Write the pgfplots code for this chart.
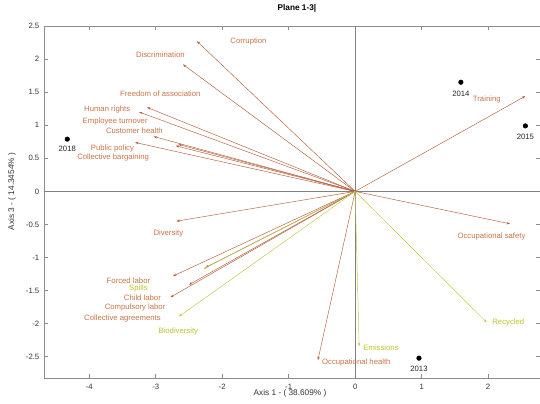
\documentclass[border=0pt]{standalone}
\usepackage{pgfplots}
\pgfplotsset{compat=1.18}
\usepackage{fontspec}
\setmainfont{Liberation Sans}
\usetikzlibrary{arrows.meta}
\definecolor{brn}{RGB}{180,95,60}
\definecolor{brt}{RGB}{200,115,70}
\definecolor{ylw}{RGB}{190,200,70}
\definecolor{ylt}{RGB}{185,195,40}
\begin{document}
\begin{tikzpicture}
\begin{axis}[
  scale only axis, width=372pt, height=264pt,
  xmin=-4.68, xmax=2.78, ymin=-2.82, ymax=2.5,
  xtick={-4,-3,-2,-1,0,1,2}, ytick={-2.5,-2,-1.5,-1,-0.5,0,0.5,1,1.5,2,2.5},
  axis line style={black!45, line width=0.6pt}, tick style={black!45, line width=0.5pt},
  tick align=inside, major tick length=3pt,
  ticklabel style={font=\fontsize{5.8}{7}\selectfont, text=black!80},
  /pgf/number format/assume math mode=true,
  xticklabel style={yshift=-1pt},
  title={Plane 1-3|},
  title style={at={(axis description cs:0.51,1)}, anchor=center, yshift=7.5pt, font=\bfseries\fontsize{6.2}{7}\selectfont},
  xlabel={Axis 1 - ( 38.609\% )},
  xlabel style={at={(axis description cs:0.496,0)}, anchor=center, yshift=-11.5pt, font=\fontsize{6.2}{7}\selectfont, text=black!80},
  ylabel={Axis 3 - ( 14.3454\% )},
  ylabel style={at={(axis description cs:-0.0645,0.53)}, anchor=center, font=\fontsize{6.2}{7}\selectfont, text=black!80},
  clip=false,
]
% zero axes
\addplot[black!50, line width=0.7pt] coordinates {(-4.68,0) (2.78,0)};
\addplot[black!50, line width=0.7pt] coordinates {(0,-2.82) (0,2.5)};

\tikzset{arr/.style={line width=0.35pt, -{Stealth[length=2.6pt,width=1.8pt]}}}
% social (brown) vectors
\addplot[brn, arr] coordinates {(0,0) (-2.38,2.27)};   % Corruption
\addplot[brn, arr] coordinates {(0,0) (-2.59,1.92)};   % Discrimination
\addplot[brn, arr] coordinates {(0,0) (-3.13,1.27)};   % Freedom of association
\addplot[brn, arr] coordinates {(0,0) (-3.25,1.20)};   % Human rights
\addplot[brn, arr] coordinates {(0,0) (-2.66,0.71)};   % Employee turnover
\addplot[brn, arr] coordinates {(0,0) (-3.03,0.83)};   % Customer health
\addplot[brn, arr] coordinates {(0,0) (-3.31,0.74)};   % Public policy
\addplot[brn, arr] coordinates {(0,0) (-2.70,0.69)};   % Collective bargaining
\addplot[brn, arr] coordinates {(0,0) (2.56,1.44)};    % Training
\addplot[brn, arr] coordinates {(0,0) (-2.69,-0.45)};  % Diversity
\addplot[brn, arr] coordinates {(0,0) (-2.74,-1.28)};  % Forced labor
\addplot[brn, arr] coordinates {(0,0) (-2.78,-1.60)};  % Child labor
\addplot[brn, arr] coordinates {(0,0) (-2.50,-1.41)};  % Compulsory labor
\addplot[brn, arr] coordinates {(0,0) (-2.25,-1.15)};  % Collective agreements
\addplot[brn, arr] coordinates {(0,0) (2.33,-0.49)};   % Occupational safety
\addplot[brn, arr] coordinates {(0,0) (-0.56,-2.55)};  % Occupational health
% environmental (yellow) vectors
\addplot[ylw, arr] coordinates {(0,0) (-2.28,-1.17)};  % Spills
\addplot[ylw, arr] coordinates {(0,0) (-2.65,-1.89)};  % Biodiversity
\addplot[ylw, arr] coordinates {(0,0) (1.98,-1.98)};   % Recycled
\addplot[ylw, arr] coordinates {(0,0) (0.06,-2.34)};   % Emissions

% years
\addplot[only marks, mark=*, mark size=1.7pt, black] coordinates {(-4.33,0.79) (1.59,1.65) (2.56,0.99) (0.96,-2.52)};

\tikzset{lb/.style={font=\fontsize{5.8}{7}\selectfont, text=brt, inner sep=0pt}}
\tikzset{ly/.style={font=\fontsize{5.8}{7}\selectfont, text=ylt, inner sep=0pt}}
\tikzset{yr/.style={font=\fontsize{5.8}{7}\selectfont, text=black!85, inner sep=0pt}}
\node[lb, anchor=west] at (axis cs:-1.88,2.27) {Corruption};
\node[lb] at (axis cs:-2.93,2.06) {Discrimination};
\node[lb] at (axis cs:-2.93,1.48) {Freedom of association};
\node[lb] at (axis cs:-3.73,1.24) {Human rights};
\node[lb] at (axis cs:-3.61,1.05) {Employee turnover};
\node[lb] at (axis cs:-3.32,0.91) {Customer health};
\node[lb] at (axis cs:-3.65,0.65) {Public policy};
\node[lb] at (axis cs:-3.64,0.52) {Collective bargaining};
\node[lb] at (axis cs:1.98,1.39) {Training};
\node[lb] at (axis cs:-2.81,-0.64) {Diversity};
\node[lb] at (axis cs:-3.41,-1.35) {Forced labor};
\node[ly] at (axis cs:-3.26,-1.47) {Spills};
\node[lb] at (axis cs:-3.20,-1.61) {Child labor};
\node[lb] at (axis cs:-3.31,-1.76) {Compulsory labor};
\node[lb] at (axis cs:-3.50,-1.92) {Collective agreements};
\node[ly] at (axis cs:-2.66,-2.12) {Biodiversity};
\node[lb] at (axis cs:2.05,-0.68) {Occupational safety};
\node[ly, anchor=west] at (axis cs:2.06,-1.98) {Recycled};
\node[ly, anchor=west] at (axis cs:0.12,-2.36) {Emissions};
\node[lb, anchor=west] at (axis cs:-0.50,-2.58) {Occupational health};
\node[yr] at (axis cs:-4.33,0.64) {2018};
\node[yr] at (axis cs:1.59,1.48) {2014};
\node[yr] at (axis cs:2.56,0.83) {2015};
\node[yr] at (axis cs:0.96,-2.68) {2013};
\end{axis}
\pgfresetboundingbox
\path (-33pt,-19.5pt) rectangle (372pt,283.5pt);
\end{tikzpicture}
\end{document}
